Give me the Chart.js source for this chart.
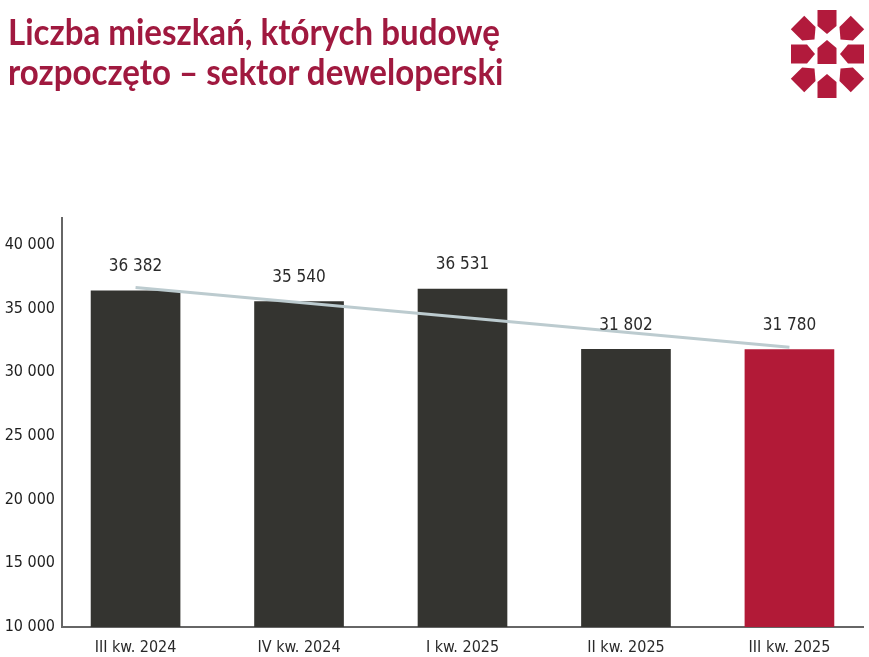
<!DOCTYPE html>
<html>
<head>
<meta charset="utf-8">
<script src="https://cdn.jsdelivr.net/npm/chart.js"></script>
<style>
  body { margin: 0; background: #fff; }
  #wrap { position: relative; width: 869px; height: 657px; }
  #title {
    position: absolute; left: 8px; top: 11px; white-space: nowrap;
    font-family: Lato, sans-serif;
    font-weight: bold; font-size: 36px; line-height: 40px; color: #a0193f;
    transform-origin: 0 0;
  }
  #logo { position: absolute; left: 780px; top: 0; }
</style>
</head>
<body>
<div id="wrap">
  <canvas id="myChart" width="869" height="657"></canvas>
  <div id="title"><span id="t1">Liczba mieszkań, których budowę</span><br>rozpoczęto – sektor deweloperski</div>
  <svg id="logo" width="89" height="110" viewBox="780 0 89 110"></svg>
</div>
<script>
const labels = ['III kw. 2024', 'IV kw. 2024', 'I kw. 2025', 'II kw. 2025', 'III kw. 2025'];
const values = [36382, 35540, 36531, 31802, 31780];
const barColors = ['#343430', '#343430', '#343430', '#343430', '#b21a37'];
const trendPoints = [[0, 36650], [4, 31950]];
const yTicks = [10000, 15000, 20000, 25000, 30000, 35000, 40000];

const FONT = '"DejaVu Sans Condensed", sans-serif';

function fmt(v) {
  return String(v).replace(/\B(?=(\d{3})+(?!\d))/g, ' ');
}

// squeeze the title so its first line is as wide as in the picture
const t1 = document.getElementById('t1');
const sx = 492 / t1.getBoundingClientRect().width;
document.getElementById('title').style.transform = `scale(${sx}, 1)`;

// logo: 8 pieces pointing to the centre + one in the middle
const logo = document.getElementById('logo');
const pieces = [
  [827, 22, 0], [849, 31, 45], [852, 54, 90], [849, 77, 135],
  [827, 86, 180], [806, 77, 225], [803, 54, 270], [806, 31, 315],
  [827, 52, 180]
];
pieces.forEach(p => {
  const el = document.createElementNS('http://www.w3.org/2000/svg', 'polygon');
  el.setAttribute('points', '-9.5,-12 9.5,-12 9.5,4 0,12 -9.5,4');
  el.setAttribute('fill', '#b21a3c');
  el.setAttribute('transform', `translate(${p[0]},${p[1]}) rotate(${p[2]})`);
  logo.appendChild(el);
});

const valueLabels = {
  id: 'valueLabels',
  afterDatasetsDraw(chart) {
    const ctx = chart.ctx;
    const meta = chart.getDatasetMeta(1);
    ctx.save();
    ctx.font = '17px ' + FONT;
    ctx.fillStyle = '#2a2a2a';
    ctx.textAlign = 'center';
    ctx.textBaseline = 'middle';
    meta.data.forEach((bar, i) => {
      ctx.fillText(fmt(values[i]), bar.x, bar.y - 24);
    });
    ctx.restore();
  }
};

const ctx = document.querySelector('#myChart');
new Chart(ctx, {
  data: {
    datasets: [{
      type: 'line',
      data: trendPoints.map(p => ({ x: p[0], y: p[1] })),
      borderColor: '#bccbcf',
      borderWidth: 3,
      pointRadius: 0,
      order: 0
    }, {
      type: 'bar',
      data: values.map((v, i) => ({ x: i, y: v })),
      backgroundColor: barColors,
      barThickness: 89,
      order: 1
    }]
  },
  options: {
    responsive: false,
    animation: false,
    layout: { padding: { top: 218, right: 6, left: 0, bottom: 0 } },
    plugins: { legend: { display: false }, tooltip: { enabled: false } },
    scales: {
      x: {
        type: 'linear',
        offset: false,
        min: -0.45,
        max: 4.45,
        grid: { display: false, drawTicks: false },
        border: { display: true, color: '#666', width: 2 },
        afterBuildTicks: s => { s.ticks = labels.map((l, i) => ({ value: i })); },
        afterFit: s => { s.height = 30; },
        ticks: {
          padding: 11,
          color: '#2a2a2a',
          font: { family: FONT, size: 16 },
          callback: v => labels[v]
        }
      },
      y: {
        min: 10000,
        max: 42100,
        grid: { display: false, drawTicks: false },
        border: { display: true, color: '#666', width: 2 },
        afterBuildTicks: s => { s.ticks = yTicks.map(v => ({ value: v })); },
        afterFit: s => { s.width = 62; },
        ticks: {
          padding: 7,
          color: '#1e1e1e',
          font: { family: FONT, size: 16 },
          callback: v => fmt(v)
        }
      }
    }
  },
  plugins: [valueLabels]
});
</script>
</body>
</html>
